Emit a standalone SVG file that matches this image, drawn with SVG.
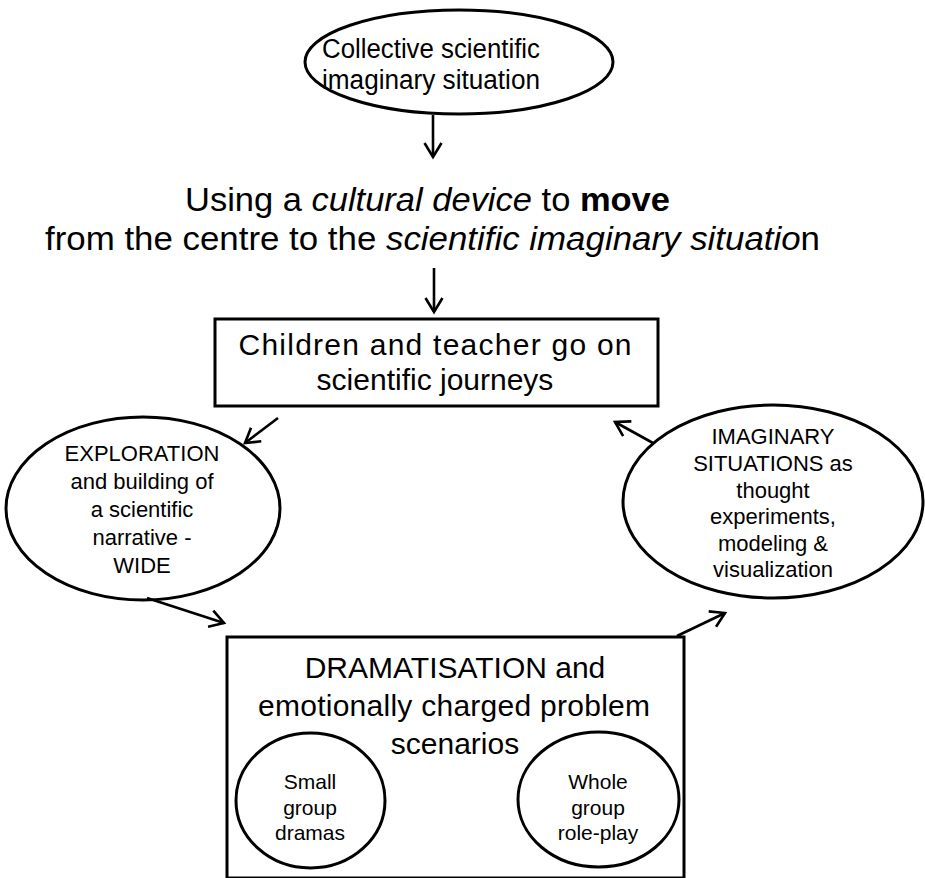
<svg xmlns="http://www.w3.org/2000/svg" width="925" height="878" viewBox="0 0 925 878">
<defs>
<style>
.shape{fill:#fff;stroke:#000;stroke-width:3}
.t{font-family:"Liberation Sans",Arial,Helvetica,sans-serif;fill:#000;text-anchor:middle}
.conn line{stroke:#000;stroke-width:2.6;fill:none}
</style>
<marker id="arr" markerUnits="userSpaceOnUse" viewBox="0 0 20 20" markerWidth="20" markerHeight="20" refX="17" refY="10" orient="auto">
<path d="M3,1.5 L17,10 L3,18.5" fill="none" stroke="#000" stroke-width="2.6" stroke-linejoin="miter"/>
</marker>
</defs>
<rect width="925" height="878" fill="#fff"/>

<g id="collective">
<ellipse class="shape" cx="459" cy="62" rx="154" ry="52"/>
<text class="t" font-size="27" x="431" y="58" textLength="218" lengthAdjust="spacingAndGlyphs">Collective scientific</text>
<text class="t" font-size="27" x="431" y="89" textLength="218" lengthAdjust="spacingAndGlyphs">imaginary situation</text>
</g>

<g id="cultural-device">
<text class="t" font-size="34" x="427.5" y="211" textLength="485" lengthAdjust="spacingAndGlyphs">Using a <tspan font-style="italic">cultural device</tspan> to <tspan font-weight="bold">move</tspan></text>
<text class="t" font-size="34" x="432.5" y="250" textLength="775" lengthAdjust="spacingAndGlyphs">from the centre to the <tspan font-style="italic">scientific imaginary situatio</tspan>n</text>
</g>

<g id="journeys">
<rect class="shape" x="215" y="319" width="443" height="87"/>
<text class="t" font-size="30"><tspan x="435" y="355" textLength="393" lengthAdjust="spacing">Children and teacher go on</tspan><tspan x="435" y="390">scientific journeys</tspan></text>
</g>

<g id="exploration">
<ellipse class="shape" cx="143" cy="508.5" rx="137" ry="91.5"/>
<text class="t" font-size="22"><tspan x="142" y="461">EXPLORATION</tspan><tspan x="142" y="489">and building of</tspan><tspan x="142" y="517">a scientific</tspan><tspan x="142" y="545">narrative  -</tspan><tspan x="142" y="573">WIDE</tspan></text>
</g>

<g id="imaginary">
<ellipse class="shape" cx="773" cy="501.5" rx="150" ry="96.5"/>
<text class="t" font-size="22"><tspan x="773" y="444">IMAGINARY</tspan><tspan x="773" y="471">SITUATIONS as</tspan><tspan x="773" y="498">thought</tspan><tspan x="773" y="524">experiments,</tspan><tspan x="773" y="551">modeling &amp;</tspan><tspan x="773" y="577">visualization</tspan></text>
</g>

<g id="dramatisation">
<rect class="shape" x="227" y="637" width="457" height="241"/>
<text class="t" font-size="30"><tspan x="455" y="678">DRAMATISATION and</tspan><tspan x="454" y="716" textLength="392" lengthAdjust="spacing">emotionally charged problem</tspan><tspan x="455" y="754">scenarios</tspan></text>
</g>

<g id="small-group">
<ellipse class="shape" cx="310.5" cy="800.5" rx="74.5" ry="67.5"/>
<text class="t" font-size="21"><tspan x="310" y="789">Small</tspan><tspan x="310" y="815">group</tspan><tspan x="310" y="840">dramas</tspan></text>
</g>

<g id="whole-group">
<ellipse class="shape" cx="598.5" cy="799.5" rx="80.5" ry="67.5"/>
<text class="t" font-size="21"><tspan x="598" y="789">Whole</tspan><tspan x="598" y="815">group</tspan><tspan x="598" y="840">role-play</tspan></text>
</g>

<g id="connectors" class="conn">
<line x1="433" y1="115" x2="433" y2="157" marker-end="url(#arr)"/>
<line x1="434" y1="268" x2="434" y2="312" marker-end="url(#arr)"/>
<line x1="278" y1="418" x2="245" y2="443" marker-end="url(#arr)"/>
<line x1="147" y1="598" x2="224" y2="623" marker-end="url(#arr)"/>
<line x1="677" y1="636" x2="725" y2="613" marker-end="url(#arr)"/>
<line x1="653" y1="443" x2="615" y2="422" marker-end="url(#arr)"/>
</g>
</svg>
